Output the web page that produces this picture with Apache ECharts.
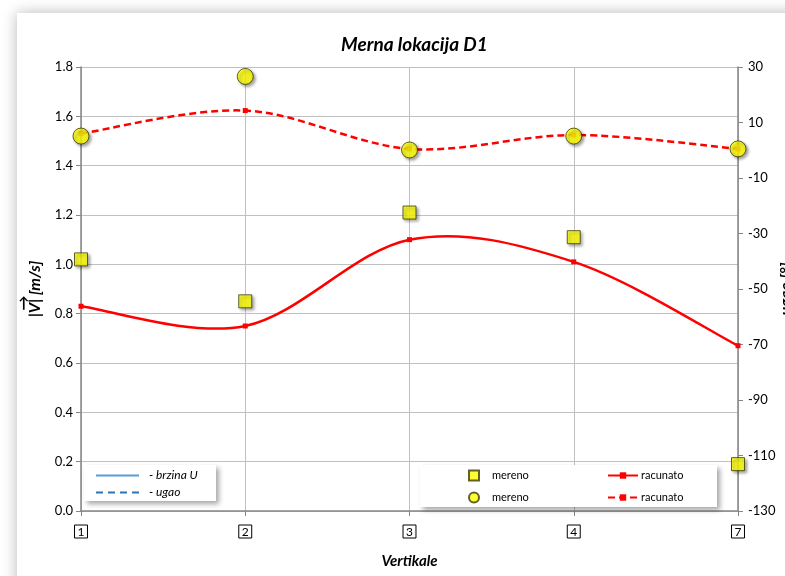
<!DOCTYPE html>
<html>
<head>
<meta charset="utf-8">
<script src="https://cdn.jsdelivr.net/npm/echarts@6/dist/echarts.min.js"></script>
<style>
html,body{margin:0;padding:0;background:#fff;}
#chart{width:785px;height:576px;}
</style>
</head>
<body>
<div id="chart"></div>
<script>
const categories = ['1', '2', '3', '4', '7'];
const speedMeasured = [1.02, 0.85, 1.21, 1.11, 0.19];
const speedComputed = [0.83, 0.75, 1.10, 1.01, 0.67];
const angleMeasured = [5.1, 26.6, 0.1, 5.1, 0.5];
const angleComputed = [6.0, 14.3, 0.5, 5.5, 0.5];
const leftTicks = {min: 0, max: 1.8, interval: 0.2};
const rightTicks = {min: -130, max: 30, interval: 20};

const FONT = 'Lato';
const axisGrey = '#868686';
const gridGrey = '#c0c0c0';

const chart = echarts.init(document.getElementById('chart'), null, {renderer: 'canvas'});

const markerShadow = {shadowBlur: 3, shadowOffsetX: 2, shadowOffsetY: 2, shadowColor: 'rgba(0,0,0,0.45)'};

// Excel-like smoothed curve (Catmull-Rom -> cubic Bezier) drawn through the axis scales
function smoothCurveRenderer(values, dash) {
  return function (params, api) {
    if (params.dataIndex !== 0) return null;
    const pts = values.map((v, i) => api.coord([i, v]));
    let d = 'M' + pts[0][0] + ' ' + pts[0][1];
    for (let i = 0; i < pts.length - 1; i++) {
      const p0 = pts[Math.max(0, i - 1)], p1 = pts[i], p2 = pts[i + 1], p3 = pts[Math.min(pts.length - 1, i + 2)];
      const c1x = p1[0] + (p2[0] - p0[0]) / 6, c1y = p1[1] + (p2[1] - p0[1]) / 6;
      const c2x = p2[0] - (p3[0] - p1[0]) / 6, c2y = p2[1] - (p3[1] - p1[1]) / 6;
      d += ' C' + c1x + ' ' + c1y + ' ' + c2x + ' ' + c2y + ' ' + p2[0] + ' ' + p2[1];
    }
    const children = [{
      type: 'path',
      shape: {pathData: d},
      style: {fill: 'none', stroke: '#ff0000', lineWidth: 2.5, lineDash: dash || null}
    }];
    pts.forEach(p => children.push({
      type: 'rect', shape: {x: p[0] - 2.5, y: p[1] - 2.5, width: 5, height: 5},
      style: {fill: '#ff0000'}
    }));
    return {type: 'group', children};
  };
}

const option = {
  animation: false,
  textStyle: {fontFamily: FONT},
  title: {
    text: 'Merna lokacija D1',
    left: 336,
    top: 30,
    textStyle: {fontFamily: FONT, fontSize: 19, fontWeight: 'bold', fontStyle: 'italic', color: '#000'}
  },
  graphic: [
    {type: 'rect', z: -1, shape: {x: 17, y: 13, width: 820, height: 620},
      style: {fill: '#fff', shadowBlur: 14, shadowColor: 'rgba(0,0,0,0.28)'}},
    {type: 'rect', z: 3, shape: {x: 84, y: 465, width: 132, height: 36},
      style: {fill: '#fff', shadowBlur: 5, shadowOffsetX: 3, shadowOffsetY: 3, shadowColor: 'rgba(0,0,0,0.35)'}},
    {type: 'rect', z: 3, shape: {x: 420, y: 465, width: 297, height: 42},
      style: {fill: '#fff', shadowBlur: 5, shadowOffsetX: 3, shadowOffsetY: 3, shadowColor: 'rgba(0,0,0,0.35)'}},
    {type: 'text', z: 5, left: 18, top: 296,
      style: {text: '\u2191', font: 'bold 15px ' + FONT, fill: '#000'}}
  ],
  legend: [
    {
      data: ['- brzina U', '- ugao'],
      orient: 'vertical', left: 95, top: 469, padding: 0, itemGap: 4,
      itemWidth: 43, itemHeight: 10, selectedMode: false, z: 6,
      itemStyle: {opacity: 0},
      textStyle: {fontFamily: FONT, fontSize: 12, fontStyle: 'italic', color: '#000', lineHeight: 13, padding: [0, 0, 0, 5]}
    },
    {
      data: ['mereno', 'mereno '],
      orient: 'vertical', left: 468, top: 469, padding: 0, itemGap: 9,
      itemWidth: 10, itemHeight: 10, selectedMode: false, z: 6,
      textStyle: {fontFamily: FONT, fontSize: 11, color: '#000', lineHeight: 13, padding: [0, 0, 0, 8]}
    },
    {
      data: ['racunato', 'racunato '],
      orient: 'vertical', left: 607, top: 469, padding: 0, itemGap: 9,
      itemWidth: 30, itemHeight: 8, selectedMode: false, z: 6,
      textStyle: {fontFamily: FONT, fontSize: 11, color: '#000', lineHeight: 13, padding: [0, 0, 0, -2]}
    }
  ],
  grid: {left: 81, right: 47, top: 67, bottom: 65, containLabel: false, outerBoundsMode: 'none'},
  xAxis: {
    type: 'category',
    data: categories,
    boundaryGap: false,
    name: 'Vertikale',
    nameLocation: 'middle',
    nameGap: 43,
    nameTextStyle: {fontFamily: FONT, fontSize: 15, fontWeight: 'bold', fontStyle: 'italic', color: '#000'},
    axisLine: {lineStyle: {color: axisGrey, width: 1.5}},
    axisTick: {show: true, length: 5, lineStyle: {color: axisGrey}},
    splitLine: {show: true, lineStyle: {color: gridGrey, width: 1}},
    axisLabel: {
      margin: 14, fontFamily: FONT, fontSize: 12, color: '#000',
      borderColor: '#000', borderWidth: 1, padding: [1, 3, 0, 3]
    }
  },
  yAxis: [
    {
      type: 'value', min: leftTicks.min, max: leftTicks.max, interval: leftTicks.interval,
      name: '|V| [m/s]', nameLocation: 'middle', nameGap: 38, nameRotate: 90,
      nameTextStyle: {fontFamily: FONT, fontSize: 16, fontWeight: 'bold', fontStyle: 'italic', color: '#000'},
      axisLine: {show: true, lineStyle: {color: axisGrey, width: 1.5}},
      axisTick: {show: true, length: 5, lineStyle: {color: axisGrey}},
      splitLine: {show: true, lineStyle: {color: gridGrey, width: 1}},
      axisLabel: {margin: 8, fontFamily: FONT, fontSize: 13, color: '#000', formatter: v => v.toFixed(1)}
    },
    {
      type: 'value', position: 'right', min: rightTicks.min, max: rightTicks.max, interval: rightTicks.interval,
      name: 'ugao [°]', nameLocation: 'middle', nameGap: 40, nameRotate: 90, nameMoveOverlap: false,
      nameTextStyle: {fontFamily: FONT, fontSize: 16, fontWeight: 'bold', fontStyle: 'italic', color: '#000'},
      axisLine: {show: true, lineStyle: {color: axisGrey, width: 1.5}},
      axisTick: {show: true, length: 5, lineStyle: {color: axisGrey}},
      splitLine: {show: false},
      axisLabel: {margin: 10, fontFamily: FONT, fontSize: 13, color: '#000'}
    }
  ],
  series: [
    {name: '- brzina U', type: 'line', data: [], symbol: 'none',
      lineStyle: {color: '#5b9bd5', width: 2}, itemStyle: {color: '#5b9bd5'}},
    {name: '- ugao', type: 'line', data: [], symbol: 'none',
      lineStyle: {color: '#2e75b6', width: 2, type: [7, 5]}, itemStyle: {color: '#2e75b6'}},
    {name: 'racunato', type: 'line', data: [], symbol: 'rect', symbolSize: 5,
      lineStyle: {color: '#ff0000', width: 2.5}, itemStyle: {color: '#ff0000'}},
    {name: 'racunato ', type: 'line', data: [], symbol: 'rect', symbolSize: 5,
      lineStyle: {color: '#ff0000', width: 2.5, type: [7, 4]}, itemStyle: {color: '#ff0000'}},
    {name: 'racunato curve U', type: 'custom', yAxisIndex: 0, z: 3,
      data: speedComputed.map((v, i) => [i, v]), encode: {x: 0, y: 1},
      renderItem: smoothCurveRenderer(speedComputed, null)},
    {name: 'racunato curve ugao', type: 'custom', yAxisIndex: 1, z: 3,
      data: angleComputed.map((v, i) => [i, v]), encode: {x: 0, y: 1},
      renderItem: smoothCurveRenderer(angleComputed, [7, 4])},
    {name: 'mereno', type: 'scatter', yAxisIndex: 0, data: speedMeasured,
      symbol: 'rect', symbolSize: 13, z: 4,
      itemStyle: Object.assign({color: '#ffff00', borderColor: '#3a3a00', borderWidth: 1}, markerShadow)},
    {name: 'mereno ', type: 'scatter', yAxisIndex: 1, data: angleMeasured,
      symbol: 'circle', symbolSize: 16, z: 4,
      itemStyle: Object.assign({color: '#ffff00', borderColor: '#3a3a00', borderWidth: 1}, markerShadow)}
  ]
};
chart.setOption(option);
</script>
</body>
</html>
